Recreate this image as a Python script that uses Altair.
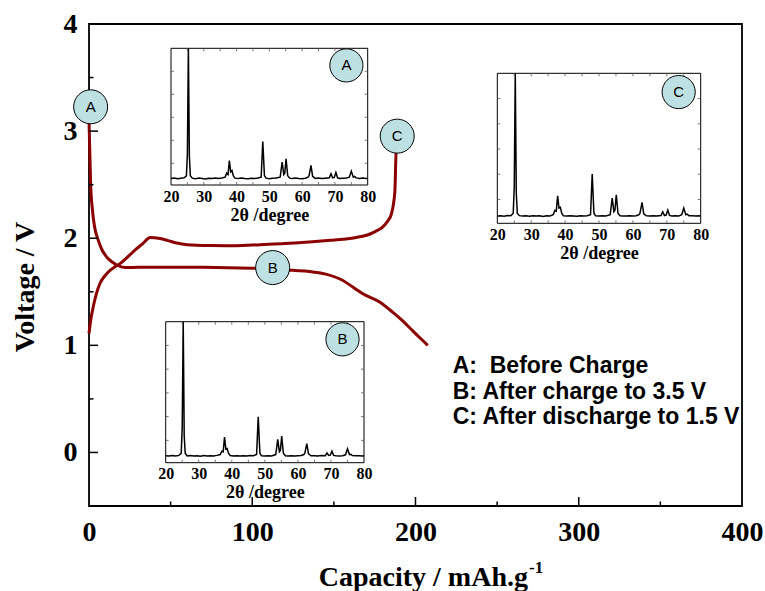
import altair as alt
import pandas as pd

# ---------------- data ----------------
# first curve (from A, before charge)
cap_a = [0, 0.5, 1.0, 2.0, 3.5, 5.7, 8, 10.8, 14, 17,
         22, 30, 45, 70, 100, 112, 125, 135, 145, 155,
         162, 168, 178, 186, 192, 197, 202, 207.5]
volt_a = [3.10, 2.80, 2.51, 2.28, 2.10, 1.98, 1.89, 1.825, 1.78, 1.75,
          1.727, 1.728, 1.73, 1.728, 1.72, 1.715, 1.70, 1.69, 1.665, 1.61,
          1.54, 1.48, 1.405, 1.31, 1.23, 1.155, 1.08, 1.0]
# second curve (rising to C)
cap_c = [0, 1, 2.6, 4.5, 6.7, 9.5, 12.9, 16, 19,
         24, 29, 33, 37.5, 43.5, 48, 53.7, 60, 74, 90,
         105, 120, 135, 148, 156, 163, 170, 175, 180, 183,
         185.3, 186.6, 187.4, 188, 188.5]
volt_c = [1.11, 1.23, 1.36, 1.48, 1.577, 1.645, 1.70, 1.735, 1.763,
          1.83, 1.90, 1.95, 2.007, 1.997, 1.98, 1.955, 1.94, 1.932, 1.93,
          1.94, 1.95, 1.965, 1.98, 1.99, 2.005, 2.028, 2.06, 2.106, 2.16,
          2.23, 2.33, 2.45, 2.76, 2.93]

# state markers on the main plot
marker_labels = ["A", "B", "C"]
marker_cap = [1.0, 112.5, 188.8]
marker_volt = [3.227, 1.726, 2.953]

# main axis ticks
x_major = [0, 100, 200, 300, 400]
x_inner_major = [100, 200, 300]
x_minor = [50, 150, 250, 350]
y_major = [0, 1, 2, 3, 4]
y_minor = [0.5, 1.5, 2.5, 3.5]

# XRD patterns (2theta, relative intensity)
theta = [20, 21, 22, 23, 24, 24.7, 25.0, 25.3, 25.6, 25.9,
         26.5, 27.5, 28.5, 29.5, 30.5, 31.5, 32.5, 33.5, 34.5, 35.5,
         36.5, 37.0, 37.4, 37.8, 38.2, 38.6, 39.0, 39.5, 40.5, 41.5,
         42.5, 43.5, 44.5, 45.5, 46.5, 47.5, 48.0, 48.5, 49, 50,
         51, 52, 53.3, 53.9, 54.4, 54.7, 55.1, 55.6, 56.2, 57,
         58, 59, 60, 61, 61.8, 62.1, 62.7, 63.2, 64, 65,
         66, 67, 68.3, 68.8, 69.3, 69.8, 70.3, 70.8, 71.5, 72.5,
         73.5, 74.4, 75.0, 75.6, 76.0, 76.5, 77.5, 78.5, 79.5, 80]
xrd_a = [0.010, 0.014, 0.008, 0.012, 0.015, 0.03, 0.20, 1.00, 0.18, 0.03,
         0.012, 0.008, 0.013, 0.010, 0.006, 0.012, 0.009, 0.014, 0.010, 0.013,
         0.02, 0.05, 0.04, 0.146, 0.06, 0.07, 0.03, 0.012, 0.009, 0.013,
         0.010, 0.008, 0.012, 0.009, 0.013, 0.02, 0.29, 0.03, 0.012, 0.008,
         0.011, 0.014, 0.02, 0.134, 0.04, 0.05, 0.16, 0.03, 0.012, 0.009,
         0.013, 0.010, 0.008, 0.012, 0.02, 0.03, 0.11, 0.025, 0.010, 0.013,
         0.009, 0.012, 0.015, 0.045, 0.015, 0.018, 0.055, 0.015, 0.010, 0.012,
         0.014, 0.02, 0.066, 0.02, 0.025, 0.014, 0.010, 0.013, 0.009, 0.011]
xrd_b = [0.012, 0.009, 0.013, 0.010, 0.014, 0.03, 0.22, 1.00, 0.16, 0.03,
         0.010, 0.013, 0.009, 0.012, 0.008, 0.013, 0.010, 0.012, 0.009, 0.014,
         0.02, 0.045, 0.04, 0.149, 0.06, 0.065, 0.03, 0.013, 0.010, 0.012,
         0.009, 0.012, 0.010, 0.013, 0.011, 0.02, 0.298, 0.03, 0.011, 0.009,
         0.012, 0.010, 0.02, 0.132, 0.04, 0.05, 0.156, 0.03, 0.011, 0.010,
         0.012, 0.009, 0.011, 0.013, 0.02, 0.03, 0.10, 0.025, 0.011, 0.012,
         0.010, 0.013, 0.012, 0.032, 0.013, 0.016, 0.045, 0.014, 0.011, 0.010,
         0.012, 0.018, 0.062, 0.02, 0.022, 0.013, 0.011, 0.012, 0.010, 0.012]
xrd_c = [0.011, 0.013, 0.009, 0.014, 0.012, 0.03, 0.21, 1.00, 0.17, 0.03,
         0.013, 0.010, 0.012, 0.009, 0.013, 0.010, 0.012, 0.008, 0.013, 0.011,
         0.02, 0.05, 0.045, 0.151, 0.065, 0.07, 0.03, 0.012, 0.010, 0.013,
         0.011, 0.009, 0.013, 0.010, 0.012, 0.02, 0.302, 0.03, 0.012, 0.010,
         0.013, 0.011, 0.02, 0.135, 0.04, 0.05, 0.158, 0.03, 0.012, 0.010,
         0.011, 0.013, 0.010, 0.012, 0.02, 0.03, 0.105, 0.025, 0.012, 0.010,
         0.012, 0.010, 0.014, 0.040, 0.014, 0.017, 0.051, 0.015, 0.011, 0.013,
         0.010, 0.019, 0.065, 0.02, 0.024, 0.013, 0.012, 0.010, 0.013, 0.011]
inset_x_labels = [20, 30, 40, 50, 60, 70, 80]
inset_x_ticks = [25, 30, 35, 40, 45, 50, 55, 60, 65, 70, 75]
inset_y_ticks = [0.125, 0.3, 0.475, 0.65, 0.825]
inset_marker_pos = [73.5, 0.87]

# texts
y_title = "Voltage / V"
x_title = "Capacity / mAh.g"
x_title_sup = "-1"
inset_title = "2\u03b8 /degree"
legend_lines = ["A:\u00a0 Before Charge", "B: After charge to 3.5 V", "C: After discharge to 1.5 V"]

# ---------------- layout / style ----------------
W, H = 653, 482
SERIF = "Liberation Serif"
SANS = "Liberation Sans"
RED = "#8b0000"
BUBBLE = "#bde0e2"
INSET_BOX = {
    "A": {"left": 82, "right": 278.7, "top": 24.3, "bottom": 161},
    "B": {"left": 76.7, "right": 275, "top": 297.7, "bottom": 438.7},
    "C": {"left": 408.3, "right": 611.7, "top": 49.3, "bottom": 199.3},
}

xs = alt.Scale(domain=[0, 400], nice=False, zero=False)
ys = alt.Scale(domain=[-0.5, 4], nice=False, zero=False)

layers = []

curve_df = pd.concat([
    pd.DataFrame({"cap": cap_a, "v": volt_a, "curve": "a"}),
    pd.DataFrame({"cap": cap_c, "v": volt_c, "curve": "c"}),
])
layers.append(
    alt.Chart(curve_df).mark_line(color=RED, strokeWidth=3, interpolate="monotone").encode(
        x=alt.X("cap:Q", scale=xs, axis=alt.Axis(
            values=x_major, format="d", ticks=False, domain=False, grid=False, title=None,
            labelFont=SERIF, labelFontWeight="bold", labelFontSize=28, labelPadding=12,
            labelFlush=False, labelColor="black", orient="bottom")),
        y=alt.Y("v:Q", scale=ys, axis=alt.Axis(
            values=y_major, format="d", ticks=False, domain=False, grid=False, title=None,
            labelFont=SERIF, labelFontWeight="bold", labelFontSize=28, labelPadding=12,
            labelFlush=False, labelColor="black", orient="left")),
        detail="curve:N",
    )
)

# main ticks (inward)
def yticks(vals, length):
    return alt.Chart(pd.DataFrame({"v": vals})).mark_rule(color="black", strokeWidth=1.5).encode(
        y=alt.Y("v:Q", scale=ys, axis=None), x=alt.value(0), x2=alt.value(length))

def xticks(vals, length):
    return alt.Chart(pd.DataFrame({"c": vals})).mark_rule(color="black", strokeWidth=1.5).encode(
        x=alt.X("c:Q", scale=xs, axis=None), y=alt.value(H), y2=alt.value(H - length))

layers += [yticks(y_major, 9), yticks(y_minor, 4.5), xticks(x_inner_major, 9), xticks(x_minor, 4.5)]

# insets
def inset(intens, box, label):
    sx = alt.Scale(domain=[20, 80], range=[box["left"], box["right"]], nice=False, zero=False)
    sy = alt.Scale(domain=[-0.04, 1.0], range=[box["bottom"], box["top"]], nice=False, zero=False)
    out = []
    out.append(
        alt.Chart(pd.DataFrame({"x": [20], "x2": [80], "y": [-0.04], "y2": [1.0]}))
        .mark_rect(fill="white", stroke="black", strokeWidth=1)
        .encode(x=alt.X("x:Q", scale=sx, axis=None), x2="x2:Q",
                y=alt.Y("y:Q", scale=sy, axis=None), y2="y2:Q")
    )
    out.append(
        alt.Chart(pd.DataFrame({"t": theta, "i": intens}))
        .mark_line(color="black", strokeWidth=1.5)
        .encode(
            x=alt.X("t:Q", scale=sx, axis=alt.Axis(
                orient="bottom", offset=box["bottom"] - H, values=inset_x_labels, format="d",
                ticks=False, domain=False, grid=False, labelFlush=False,
                labelFont=SERIF, labelFontWeight="bold", labelFontSize=16, labelPadding=3,
                labelColor="black",
                title=inset_title, titleFont=SERIF, titleFontWeight="bold", titleFontSize=18,
                titlePadding=2, titleColor="black")),
            y=alt.Y("i:Q", scale=sy, axis=None),
        )
    )
    tdf = pd.DataFrame({"t": inset_x_ticks})
    for y0, y1 in [(box["top"], box["top"] + 3), (box["bottom"], box["bottom"] - 3)]:
        out.append(
            alt.Chart(tdf).mark_rule(color="#555555", strokeWidth=0.8).encode(
                x=alt.X("t:Q", scale=sx, axis=None), y=alt.value(y0), y2=alt.value(y1))
        )
    idf = pd.DataFrame({"i": inset_y_ticks})
    for x0, x1 in [(box["left"], box["left"] + 3), (box["right"], box["right"] - 3)]:
        out.append(
            alt.Chart(idf).mark_rule(color="#555555", strokeWidth=0.8).encode(
                y=alt.Y("i:Q", scale=sy, axis=None), x=alt.value(x0), x2=alt.value(x1))
        )
    mdf = pd.DataFrame({"t": [inset_marker_pos[0]], "i": [inset_marker_pos[1]], "lab": [label]})
    out.append(
        alt.Chart(mdf).mark_circle(size=1100, fill=BUBBLE, stroke="black", strokeWidth=1, opacity=1)
        .encode(x=alt.X("t:Q", scale=sx, axis=None), y=alt.Y("i:Q", scale=sy, axis=None))
    )
    out.append(
        alt.Chart(mdf).mark_text(font=SANS, fontSize=15, color="black", align="center", baseline="middle")
        .encode(x=alt.X("t:Q", scale=sx, axis=None), y=alt.Y("i:Q", scale=sy, axis=None), text="lab:N")
    )
    return out

layers += inset(xrd_a, INSET_BOX["A"], "A")
layers += inset(xrd_b, INSET_BOX["B"], "B")
layers += inset(xrd_c, INSET_BOX["C"], "C")

# main state markers
mk = pd.DataFrame({"cap": marker_cap, "v": marker_volt, "lab": marker_labels})
layers.append(
    alt.Chart(mk).mark_circle(size=1156, fill=BUBBLE, stroke="black", strokeWidth=1, opacity=1)
    .encode(x=alt.X("cap:Q", scale=xs, axis=None), y=alt.Y("v:Q", scale=ys, axis=None))
)
layers.append(
    alt.Chart(mk).mark_text(font=SANS, fontSize=15, color="black", align="center", baseline="middle")
    .encode(x=alt.X("cap:Q", scale=xs, axis=None), y=alt.Y("v:Q", scale=ys, axis=None), text="lab:N")
)

# legend text block
layers.append(
    alt.Chart(pd.DataFrame({"k": [0]})).mark_text(
        font=SANS, fontSize=23, fontWeight="bold", color="black", align="left",
        baseline="alphabetic", lineHeight=25.5)
    .encode(x=alt.value(363.7), y=alt.value(349), text=alt.value(legend_lines))
)

# axis titles
layers.append(
    alt.Chart(pd.DataFrame({"t": [y_title]})).mark_text(
        font=SERIF, fontSize=28, fontWeight="bold", color="black", align="center",
        baseline="alphabetic", angle=270)
    .encode(x=alt.value(-55), y=alt.value(263), text="t:N")
)
layers.append(
    alt.Chart(pd.DataFrame({"t": [x_title]})).mark_text(
        font=SERIF, fontSize=28, fontWeight="bold", color="black", align="right",
        baseline="alphabetic")
    .encode(x=alt.value(439), y=alt.value(562), text="t:N")
)
layers.append(
    alt.Chart(pd.DataFrame({"t": [x_title_sup]})).mark_text(
        font=SERIF, fontSize=17, fontWeight="bold", color="black", align="left",
        baseline="alphabetic")
    .encode(x=alt.value(440), y=alt.value(549), text="t:N")
)

chart = (
    alt.layer(*layers)
    .resolve_scale(x="independent", y="independent")
    .properties(
        width=W, height=H,
        padding={"left": 89, "top": 24, "right": 23, "bottom": 85},
        autosize=alt.AutoSizeParams(type="none"),
        background="white",
    )
    .configure_view(stroke="black", strokeWidth=1.8)
)

chart.save("out.html", embed_options={"renderer": "svg", "actions": False})
